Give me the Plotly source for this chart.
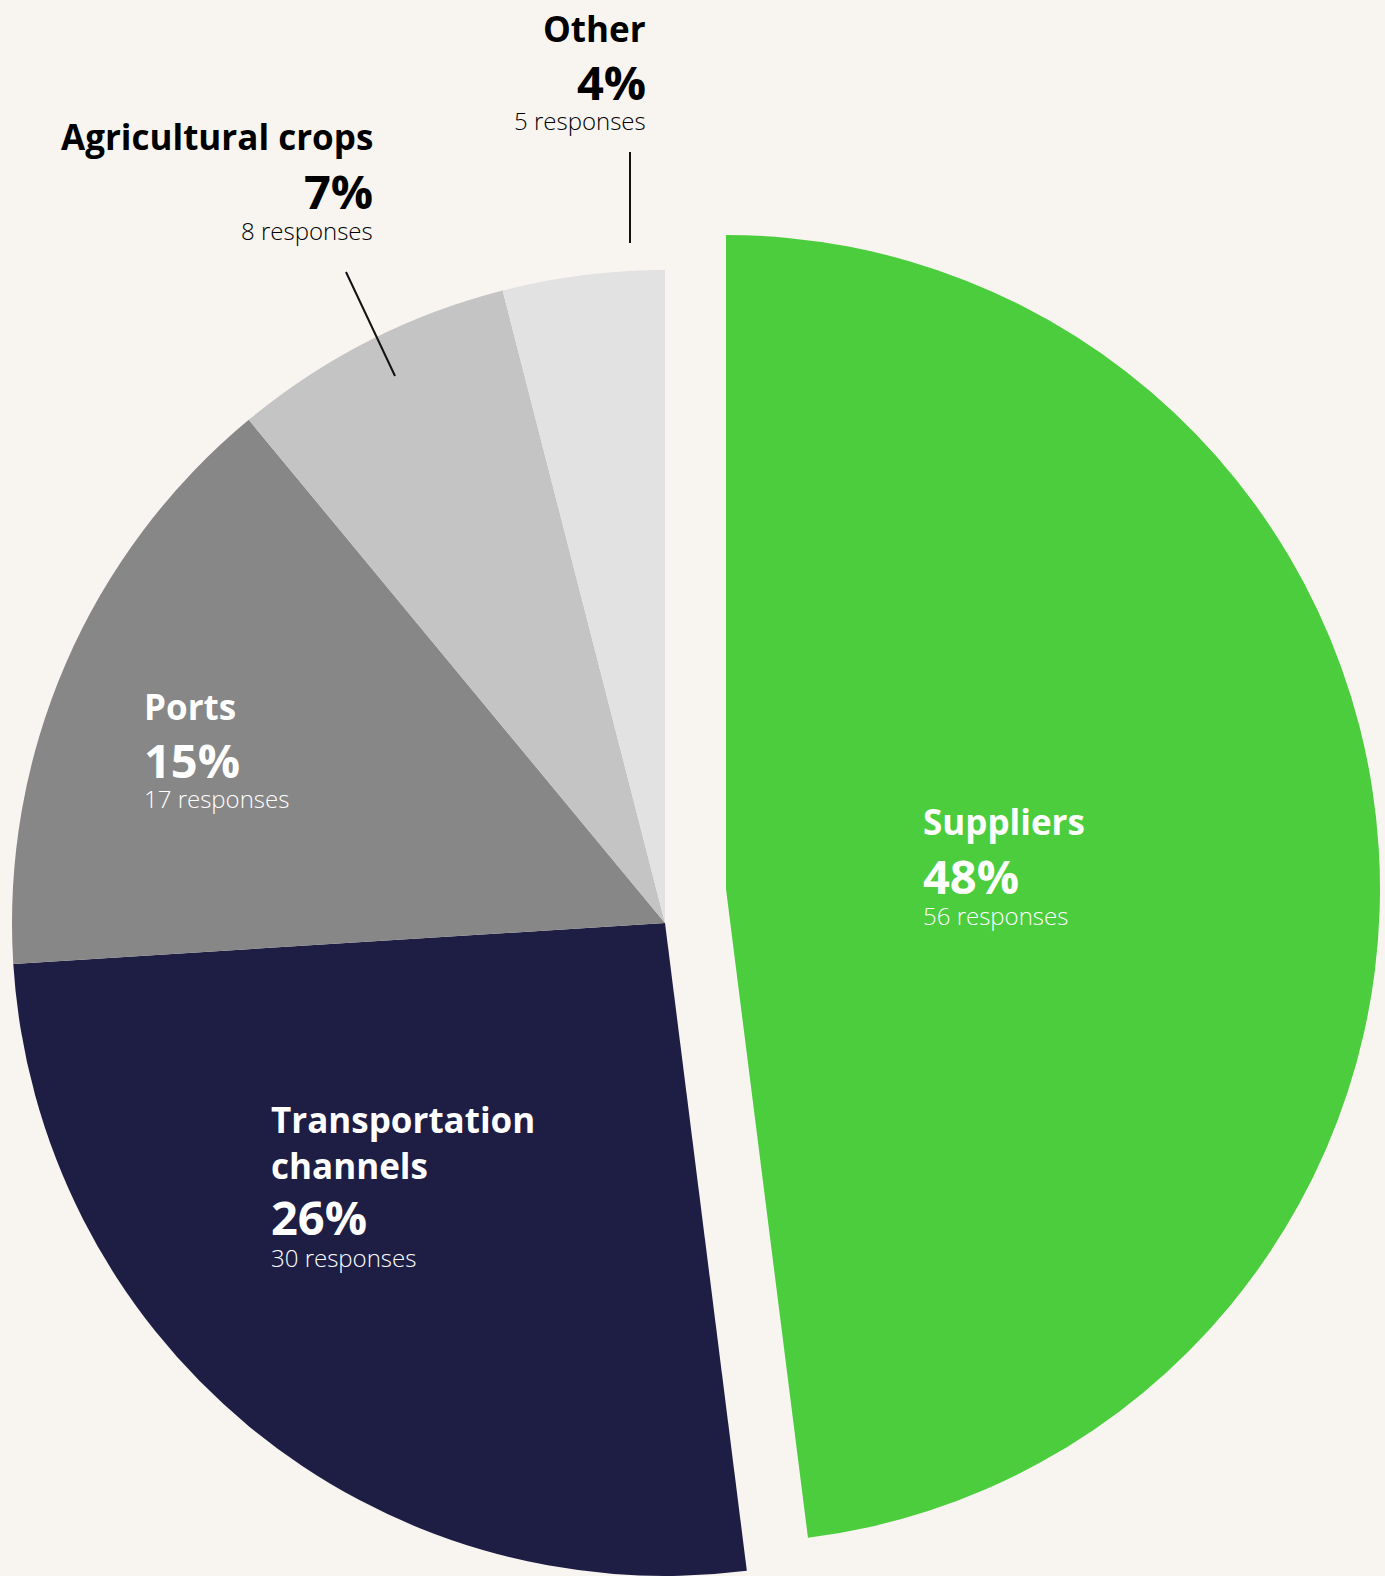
import plotly.graph_objects as go

# ---- data ----
categories = ["Suppliers", "Transportation channels", "Ports", "Agricultural crops", "Other"]
percents = [48, 26, 15, 7, 4]
responses = [56, 30, 17, 8, 5]
colors = ["#4BCD3E", "#1E1E45", "#878787", "#C4C4C4", "#E2E2E2"]

W, H = 1385, 1576
BG = "#F8F5F0"
FONT = "Open Sans"


def px_x(x):
    return x / W


def px_y(y):
    return 1 - y / H


TRANSPARENT = "rgba(0,0,0,0)"

rest_colors = [TRANSPARENT] + colors[1:]
sup_colors = [colors[0]] + [TRANSPARENT] * 4

fig = go.Figure()
fig.add_trace(go.Pie(
    labels=categories, values=percents, sort=False, direction="clockwise",
    rotation=0, marker=dict(colors=rest_colors, line=dict(width=0)),
    textinfo="none", hoverinfo="skip", showlegend=False,
    domain=dict(x=[px_x(11.5), px_x(1318.5)], y=[0, px_y(270)]),
))
fig.add_trace(go.Pie(
    labels=categories, values=percents, sort=False, direction="clockwise",
    rotation=0, marker=dict(colors=sup_colors, line=dict(width=0)),
    textinfo="none", hoverinfo="skip", showlegend=False,
    domain=dict(x=[px_x(72), px_x(1380)], y=[px_y(1543), px_y(235)]),
))

TITLE_SIZE = 35
PCT_SIZE = 47
RESP_SIZE = 24


def add_line(text, x, baseline, size, weight, color, align):
    fig.add_annotation(
        text=text, x=px_x(x), y=px_y(baseline - 0.36 * size),
        xref="paper", yref="paper", showarrow=False,
        xanchor=align, yanchor="middle",
        font=dict(family=FONT, size=size, color=color, weight=weight),
    )


label_specs = [
    (0, 921, "left", [(categories[0], 834)], 893, 924, "white"),
    (1, 269, "left", [("Transportation", 1132), ("channels", 1178)], 1234, 1266, "white"),
    (2, 142, "left", [(categories[2], 719)], 777, 807, "white"),
    (3, 375, "right", [(categories[3], 149)], 208, 239, "#000000"),
    (4, 648, "right", [(categories[4], 41)], 99, 129, "#000000"),
]

for idx, x, anchor, titles, pb, rb, col in label_specs:
    for t, b in titles:
        add_line(t, x, b, TITLE_SIZE, 700, col, anchor)
    add_line(f"{percents[idx]}%", x, pb, PCT_SIZE, 700, col, anchor)
    add_line(f"{responses[idx]} responses", x, rb, RESP_SIZE, 300, col, anchor)

# leader lines
fig.add_shape(type="line", xref="paper", yref="paper",
              x0=px_x(630), y0=px_y(152), x1=px_x(630), y1=px_y(243),
              line=dict(color="#111111", width=2))
fig.add_shape(type="line", xref="paper", yref="paper",
              x0=px_x(346), y0=px_y(272), x1=px_x(395), y1=px_y(376),
              line=dict(color="#111111", width=2))

fig.update_layout(
    width=W, height=H,
    margin=dict(l=0, r=0, t=0, b=0),
    paper_bgcolor=BG, plot_bgcolor=BG,
    showlegend=False,
)

fig.write_html("out.html")
